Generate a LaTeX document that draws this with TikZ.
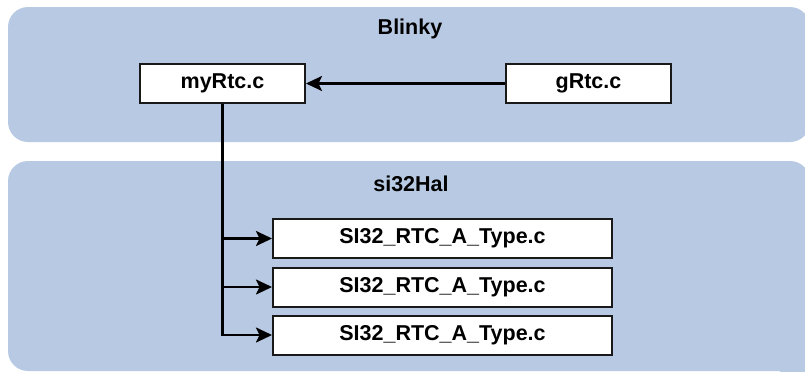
\documentclass[tikz,border=0pt]{standalone}
\usepackage{fontspec}
\setmainfont{Liberation Sans}
\usetikzlibrary{arrows.meta}
\definecolor{panelblue}{RGB}{184,202,227}
\begin{document}
\begin{tikzpicture}[x=1pt,y=-1pt,
  panel/.style={fill=panelblue, draw=none, rounded corners=20pt},
  paneltitle/.style={inner sep=0pt, anchor=base, font=\fontsize{21.5}{25}\selectfont\bfseries},
  filebox/.style={draw=black!90, line width=2pt, fill=white, minimum height=39pt,
    inner sep=0pt, font=\fontsize{21.5}{25}\selectfont\bfseries},
  link/.style={line width=2.4pt, line join=miter, -{Stealth[length=16pt,width=15pt,inset=3.5pt]}}]
\useasboundingbox (0,0) rectangle (805,372);
\clip (0,0) rectangle (805,372);

% layer panels
\fill[panel] (8,7) rectangle (810,142);
\fill[panel] (8,161) rectangle (810,371);
\fill[panelblue] (780,340) rectangle (810,372);
\node[paneltitle] (blinky) at (410,34) {Blinky};
\node[paneltitle] (hal) at (411,191) {si32Hal};

% application files
\node[filebox, minimum width=165pt] (myrtc) at (222.5,83.5) {myRtc.c};
\node[filebox, minimum width=165pt] (grtc) at (588.5,83.5) {gRtc.c};

% HAL files
\node[filebox, minimum width=339pt] (rtcA) at (442.5,238.5) {SI32\_RTC\_A\_Type.c};
\node[filebox, minimum width=339pt] (rtcB) at (442.5,287) {SI32\_RTC\_A\_Type.c};
\node[filebox, minimum width=339pt] (rtcC) at (442.5,335) {SI32\_RTC\_A\_Type.c};

% dependencies
\draw[link] (grtc.west) -- (myrtc.east);
\draw[link] (myrtc.south) |- (rtcA.west);
\draw[link] (myrtc.south) |- (rtcB.west);
\draw[link] (myrtc.south) |- (rtcC.west);
\end{tikzpicture}
\end{document}
